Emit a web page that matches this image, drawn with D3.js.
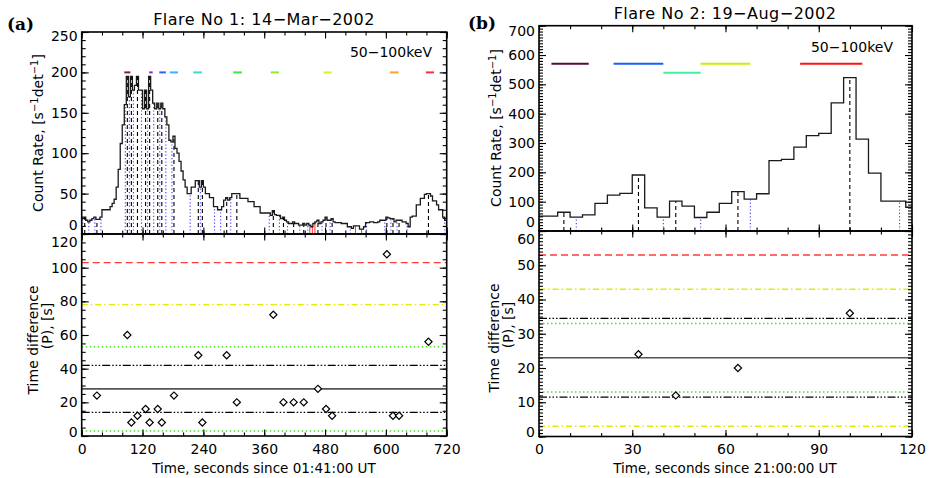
<!DOCTYPE html>
<html>
<head>
<meta charset="UTF-8">
<title>Flare periods</title>
<script src="https://d3js.org/d3.v7.min.js"></script>
<style>
body { margin: 0; background: #fff; }
svg text { font-family: "DejaVu Sans", sans-serif; fill: #000; }
</style>
</head>
<body>
<svg id="chart" width="930" height="478"></svg>
<script>
// ---------- Flare 1, 14-Mar-2002 : 4 s bins starting at t = 0 ----------
const countsA = [
  21,21,17,15,17,19,21,18,18,21,
  30,30,30,30,34,38,43,58,80,112,
  135,160,195,170,195,178,184,195,178,178,
  155,178,155,195,178,162,155,162,155,162,
  155,145,135,116,114,121,106,100,90,78,
  67,58,50,50,58,58,66,66,58,66,
  58,50,50,45,45,34,34,30,30,34,
  42,45,42,45,50,50,50,50,44,44,
  44,44,40,40,40,34,34,34,26,26,
  26,26,26,23,29,24,23,23,19,21,
  17,15,13,13,15,13,13,11,11,13,
  11,13,11,9,13,15,17,13,15,17,
  21,17,17,19,15,14,14,14,13,13,
  13,9,9,7,10,10,10,6,6,9,
  14,14,15,15,14,14,15,17,17,17,
  21,20,19,19,15,17,17,17,15,15,
  13,9,21,22,22,36,36,44,44,49,
  50,50,47,41,41,36,30,30,21,17
];
const peaksA  = [6,30,90,98,110,126,134,150,158,182,230,238,286,306,378,398,418,438,466,482,494,602,614,626,684];
const minimaA = [2,14,26,38,86,94,102,118,130,142,154,166,178,214,234,262,274,294,370,390,406,430,446,474,490,530,562,598,610,622,642,716];
const redMarksA = [450,455,460,540,552];
const diamondTA = [30,90,98,110,126,134,150,158,182,230,238,286,306,378,398,418,438,466,482,494,602,614,626,684];
const diamondPA = [24,60,8,12,16,8,16,8,24,48,8,48,20,72,20,20,20,28,16,12,108,12,12,56];
const barStartA = [84,133,153,174,220,299,373,477,608,679];
const barEndA   = [96,140,166,190,237,316,389,493,625,695];
const barLevelA = [200,200,200,200,200,200,200,200,200,200];
const levelsA     = [103,78,53,42,28,14,3];
const levelKindsA = ["red","yellow","green","black","mean","black","green"];

// ---------- Flare 2, 19-Aug-2002 : 4 s bins centred on 0,4,...,120 ----------
const countsB = [51,51,64,47,55,94,122,128,191,79,47,102,85,46,64,94,134,109,127,240,244,286,325,333,437,523,313,197,102,102,81];
const peaksB  = [8,32,44,64,100];
const minimaB = [0,12,40,52,68,116];
const diamondTB = [32,44,64,100];
const diamondPB = [24,12,20,36];
const barStartB = [4,24,40,52,84];
const barEndB   = [16,40,52,68,104];
const barLevelB = [570,570,540,570,570];
const levelsB     = [53,43,34.5,33,23,13,11.5,3];
const levelKindsB = ["red","yellow","black","green","mean","green","black","yellow"];

// ---------- styles ----------
const barColorsA = ["#7a1f5c","#8a2be2","#2f5fff","#2fb8ff","#2fe0d0","#3ee83e","#8cf020","#dff020","#ffa030","#ff3030"];
const barColorsB = ["#5a0a3a","#1a5cff","#40f0a0","#c8f000","#ff1010"];
const levelStyle = {
  red:    {stroke: "#ff3b3b", dash: "7,4", w: 1.3},
  yellow: {stroke: "#e2ec00", dash: "6,3,1.5,3", w: 1.3},
  green:  {stroke: "#50e030", dash: "1.5,2.5", w: 1.4},
  black:  {stroke: "#000", dash: "8,2,1.5,2,1.5,2,1.5,2", w: 1.2},
  mean:   {stroke: "#555", dash: null, w: 1.6}
};

const svg = d3.select("#chart");

// scales
const xA  = d3.scaleLinear().domain([0,720]).range([81.7,446.7]);
const yA1 = d3.scaleLinear().domain([0,250]).range([234,32]);
const yA2 = d3.scaleLinear().domain([0,120]).range([436,234]);
const xB  = d3.scaleLinear().domain([0,120]).range([539,912]);
const yB1 = d3.scaleLinear().domain([0,700]).range([231,25.7]);
const yB2 = d3.scaleLinear().domain([0,60]).range([436.5,231]);

function clean(g) {
  g.select(".domain").remove();
  g.selectAll("line").attr("stroke","#000").attr("stroke-width",1.1);
  g.attr("font-size",14).attr("font-family","DejaVu Sans");
}

function frame(x, y, c) {
  const [x0,x1] = x.range();
  const [yb,yt] = y.range();
  const ys = v => d3.range(v[0], v[1] + 1e-6, v[2]);
  const xs = v => d3.range(v[0], v[1] + 1e-6, v[2]);
  // left (labelled) and right
  svg.append("g").attr("transform",`translate(${x0},0)`)
    .call(d3.axisLeft(y).tickValues(ys(c.yMinor)).tickSize(-4).tickFormat("")).call(clean);
  const gl = svg.append("g").attr("transform",`translate(${x0},0)`)
    .call(d3.axisLeft(y).tickValues(ys(c.yMajor)).tickSize(-7).tickPadding(4)).call(clean);
  const labs = gl.selectAll(".tick text");
  const n = labs.size();
  labs.attr("transform",(d,i) => i === 0 ? `translate(0,${c.shift[0]})` : (i === n-1 ? `translate(0,${c.shift[1]})` : null));
  svg.append("g").attr("transform",`translate(${x1},0)`)
    .call(d3.axisRight(y).tickValues(ys(c.yMinor)).tickSize(-4).tickFormat("")).call(clean);
  svg.append("g").attr("transform",`translate(${x1},0)`)
    .call(d3.axisRight(y).tickValues(ys(c.yMajor)).tickSize(-7).tickFormat("")).call(clean);
  // top and bottom
  svg.append("g").attr("transform",`translate(0,${yt})`)
    .call(d3.axisTop(x).tickValues(xs(c.xMinor)).tickSize(-3.5).tickFormat("")).call(clean);
  svg.append("g").attr("transform",`translate(0,${yt})`)
    .call(d3.axisTop(x).tickValues(xs(c.xMajor)).tickSize(-6.5).tickFormat("")).call(clean);
  svg.append("g").attr("transform",`translate(0,${yb})`)
    .call(d3.axisBottom(x).tickValues(xs(c.xMinor)).tickSize(-3.5).tickFormat("")).call(clean);
  const gb = svg.append("g").attr("transform",`translate(0,${yb})`)
    .call(d3.axisBottom(x).tickValues(xs(c.xMajor)).tickSize(-6.5).tickPadding(8)).call(clean);
  if (!c.xLabels) gb.selectAll("text").remove();
  svg.append("rect").attr("x",x0).attr("y",yt).attr("width",x1-x0).attr("height",yb-yt)
    .attr("fill","none").attr("stroke","#000").attr("stroke-width",1.6);
}

function histogram(x, y, pts) {
  svg.append("path").datum(pts)
    .attr("d", d3.line().x(d => x(d[0])).y(d => y(d[1])).curve(d3.curveStepAfter))
    .attr("fill","none").attr("stroke","#1a1a1a").attr("stroke-width",1.3);
}

function verticals(x, y, times, valueAt, stroke, dash, w) {
  svg.append("g").selectAll("line").data(times).join("line")
    .attr("x1", d => x(d)).attr("x2", d => x(d))
    .attr("y1", y(0)).attr("y2", d => y(valueAt(d)))
    .attr("stroke", stroke).attr("stroke-width", w)
    .attr("stroke-dasharray", dash);
}

function bars(x, y, s, e, lv, cols) {
  svg.append("g").selectAll("line").data(s).join("line")
    .attr("x1", d => x(d)).attr("x2", (d,i) => x(e[i]))
    .attr("y1", (d,i) => y(lv[i])).attr("y2", (d,i) => y(lv[i]))
    .attr("stroke", (d,i) => cols[i]).attr("stroke-width", 2);
}

function levels(x, y, vals, kinds) {
  const [x0,x1] = x.range();
  svg.append("g").selectAll("line").data(vals).join("line")
    .attr("x1", x0).attr("x2", x1)
    .attr("y1", d => y(d)).attr("y2", d => y(d))
    .attr("stroke", (d,i) => levelStyle[kinds[i]].stroke)
    .attr("stroke-width", (d,i) => levelStyle[kinds[i]].w)
    .attr("stroke-dasharray", (d,i) => levelStyle[kinds[i]].dash);
}

function diamonds(x, y, ts, ps) {
  svg.append("g").selectAll("path").data(ts).join("path")
    .attr("d", d3.symbol().type(d3.symbolSquare).size(26))
    .attr("transform", (d,i) => `translate(${x(d)},${y(ps[i])}) rotate(45)`)
    .attr("fill","#fff").attr("stroke","#000").attr("stroke-width",1.2);
}

function yTitle(xb, yc, parts) {
  const t = svg.append("text").attr("transform",`translate(${xb},${yc}) rotate(-90)`)
    .attr("text-anchor","middle").attr("font-size",14);
  parts.forEach(p => {
    t.append("tspan").attr("dy", p[1]).attr("font-size", p[2] || 14).text(p[0]);
  });
}

// ===================== Panel (a) =====================
const valA = t => countsA[Math.min(countsA.length-1, Math.floor(t/4))];
const histA = countsA.map((v,i) => [4*i, v]).concat([[720, countsA[countsA.length-1]]]);
verticals(xA, yA1, minimaA, valA, "#3a3aff", "1.2,2.2", 1.1);
verticals(xA, yA1, peaksA, valA, "#000", "4,3", 1.1);
verticals(xA, yA1, redMarksA, valA, "#ff2020", null, 0.9);
histogram(xA, yA1, histA);
bars(xA, yA1, barStartA, barEndA, barLevelA, barColorsA);
frame(xA, yA1, {yMajor:[0,250,50], yMinor:[0,250,10], xMajor:[0,720,120], xMinor:[0,720,40], xLabels:false, shift:[-8.5,4]});
svg.append("text").attr("x",432).attr("y",57).attr("text-anchor","end").attr("font-size",14).text("50\u2212100keV");

levels(xA, yA2, levelsA, levelKindsA);
diamonds(xA, yA2, diamondTA, diamondPA);
frame(xA, yA2, {yMajor:[0,120,20], yMinor:[0,120,5], xMajor:[0,720,120], xMinor:[0,720,40], xLabels:true, shift:[-4,8.5]});

svg.append("text").attr("x",264).attr("y",25).attr("text-anchor","middle").attr("font-size",16)
  .attr("letter-spacing",0.5).text("Flare No 1: 14\u2212Mar\u22122002");
svg.append("text").attr("x",264).attr("y",473).attr("text-anchor","middle").attr("font-size",13.5)
  .text("Time, seconds since 01:41:00 UT");
yTitle(43, 133, [["Count Rate, [s",0],["\u22121",-5,10],["det",5],["\u22121",-5,10],["]",5]]);
yTitle(38, 340, [["Time difference",0]]);
yTitle(52, 326, [["(P), [s]",0]]);
svg.append("text").attr("x",7).attr("y",30).attr("font-weight","bold")
  .attr("font-size",17).style("font-family","DejaVu Serif").text("(a)");

// ===================== Panel (b) =====================
const valB = t => countsB[Math.min(countsB.length-1, Math.round(t/4))];
const histB = countsB.map((v,k) => [Math.max(0, 4*k-2), v]).concat([[120, countsB[countsB.length-1]]]);
verticals(xB, yB1, minimaB, valB, "#3a3aff", "1.2,2.2", 1.1);
verticals(xB, yB1, peaksB, valB, "#000", "4,3", 1.1);
histogram(xB, yB1, histB);
bars(xB, yB1, barStartB, barEndB, barLevelB, barColorsB);
frame(xB, yB1, {yMajor:[0,700,100], yMinor:[0,700,10], xMajor:[0,120,30], xMinor:[0,120,10], xLabels:false, shift:[-8.5,5]});
svg.append("text").attr("x",893).attr("y",52).attr("text-anchor","end").attr("font-size",14).text("50\u2212100keV");

levels(xB, yB2, levelsB, levelKindsB);
diamonds(xB, yB2, diamondTB, diamondPB);
frame(xB, yB2, {yMajor:[0,60,10], yMinor:[0,60,1], xMajor:[0,120,30], xMinor:[0,120,10], xLabels:true, shift:[-4,8.5]});

svg.append("text").attr("x",725).attr("y",18.5).attr("text-anchor","middle").attr("font-size",16)
  .attr("letter-spacing",0.5).text("Flare No 2: 19\u2212Aug\u22122002");
svg.append("text").attr("x",725).attr("y",473).attr("text-anchor","middle").attr("font-size",13.5)
  .text("Time, seconds since 21:00:00 UT");
yTitle(501, 128, [["Count Rate, [s",0],["\u22121",-5,10],["det",5],["\u22121",-5,10],["]",5]]);
yTitle(499, 338, [["Time difference",0]]);
yTitle(513, 325, [["(P), [s]",0]]);
svg.append("text").attr("x",468).attr("y",29).attr("font-weight","bold")
  .attr("font-size",17).style("font-family","DejaVu Serif").text("(b)");
</script>
</body>
</html>
